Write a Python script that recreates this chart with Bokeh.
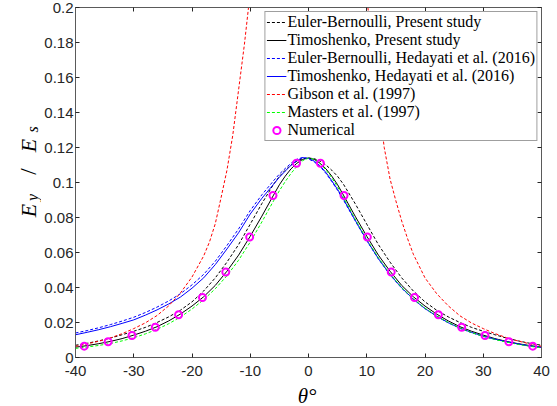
import math
from bokeh.plotting import figure
from bokeh.layouts import row, column
from bokeh.models import (Range1d, LinearAxis, FixedTicker, Legend, LegendItem,
                          Label, CustomJSTickFormatter)
from bokeh.embed import file_html
from bokeh.resources import INLINE

# ---------------- data ----------------
theta = [-40, -38, -36, -34, -32, -30, -28, -26, -24, -22, -20, -18, -16, -14, -12, -10, -8,
         -6, -5, -4, -3, -2, -1, 0, 1, 2, 3, 4, 5, 6,
         8, 10, 12, 14, 16, 18, 20, 22, 24, 26, 28, 30, 32, 34, 36, 38, 40]

eb_present = [0.0070, 0.0081, 0.0095, 0.0111, 0.0130, 0.0150, 0.0172, 0.0200, 0.0232, 0.0270,
              0.0318, 0.0380, 0.0455, 0.0545, 0.0645, 0.0762, 0.0880,
              0.0990, 0.1035, 0.1070, 0.1100, 0.1122, 0.1136, 0.1140, 0.1136, 0.1122, 0.1100,
              0.1070, 0.1035, 0.0990,
              0.0880, 0.0762, 0.0645, 0.0545, 0.0455, 0.0380, 0.0318, 0.0270, 0.0232, 0.0200,
              0.0172, 0.0150, 0.0130, 0.0111, 0.0095, 0.0081, 0.0070]

timo_present = [0.0059, 0.0068, 0.0079, 0.0092, 0.0108, 0.0128, 0.0150, 0.0176, 0.0209, 0.0248,
                0.0294, 0.0347, 0.0412, 0.0493, 0.0585, 0.0693, 0.0808,
                0.0928, 0.0987, 0.1036, 0.1078, 0.1110, 0.1132, 0.1140, 0.1132, 0.1110, 0.1078,
                0.1036, 0.0987, 0.0928,
                0.0808, 0.0693, 0.0585, 0.0493, 0.0412, 0.0347, 0.0294, 0.0248, 0.0209, 0.0176,
                0.0150, 0.0128, 0.0108, 0.0092, 0.0079, 0.0068, 0.0059]

eb_hedayati = [0.0140, 0.0154, 0.0170, 0.0188, 0.0208, 0.0230, 0.0257, 0.0288, 0.0323, 0.0364,
               0.0415, 0.0475, 0.0550, 0.0640, 0.0735, 0.0840, 0.0930,
               0.1010, 0.1048, 0.1080, 0.1110, 0.1133, 0.1143, 0.1135, 0.1117, 0.1090, 0.1052,
               0.1005, 0.0955, 0.0900,
               0.0782, 0.0668, 0.0563, 0.0472, 0.0396, 0.0332, 0.0279, 0.0235, 0.0198, 0.0167,
               0.0142, 0.0121, 0.0104, 0.0089, 0.0077, 0.0066, 0.0058]

timo_hedayati = [0.0130, 0.0144, 0.0159, 0.0176, 0.0195, 0.0215, 0.0242, 0.0272, 0.0306, 0.0345,
                 0.0396, 0.0455, 0.0531, 0.0620, 0.0713, 0.0820, 0.0910,
                 0.0990, 0.1030, 0.1065, 0.1098, 0.1125, 0.1142, 0.1138, 0.1122, 0.1095, 0.1057,
                 0.1010, 0.0960, 0.0905,
                 0.0785, 0.0670, 0.0565, 0.0474, 0.0398, 0.0333, 0.0280, 0.0236, 0.0199, 0.0168,
                 0.0143, 0.0122, 0.0105, 0.0090, 0.0077, 0.0066, 0.0058]

masters = [0.0052, 0.0060, 0.0069, 0.0080, 0.0095, 0.0113, 0.0135, 0.0161, 0.0193, 0.0231,
           0.0277, 0.0330, 0.0393, 0.0467, 0.0556, 0.0660, 0.0775,
           0.0895, 0.0953, 0.1005, 0.1052, 0.1092, 0.1125, 0.1140, 0.1132, 0.1108, 0.1072,
           0.1027, 0.0975, 0.0915,
           0.0792, 0.0676, 0.0570, 0.0478, 0.0400, 0.0335, 0.0282, 0.0237, 0.0200, 0.0168,
           0.0142, 0.0121, 0.0103, 0.0088, 0.0075, 0.0064, 0.0055]

gibson_theta_left = [-40, -38, -36, -34, -32, -30, -28, -26, -24, -22, -20, -18, -17, -16,
                     -15, -14, -13, -12, -11, -10.3]
gibson_left = [0.0064, 0.0078, 0.0093, 0.0112, 0.0136, 0.0165, 0.0198, 0.0240, 0.0295, 0.0368,
               0.0460, 0.0580, 0.0660, 0.0765, 0.0915, 0.1070, 0.1270, 0.1530, 0.1790, 0.2000]
gibson_theta_right = [10.2, 11, 12, 13, 14, 15, 16, 17, 18, 20, 22, 24, 26, 28, 30, 32, 34,
                      36, 38, 40]
gibson_right = [0.2000, 0.1750, 0.1470, 0.1200, 0.1020, 0.0895, 0.0780, 0.0680, 0.0590, 0.0455,
                0.0365, 0.0295, 0.0238, 0.0197, 0.0165, 0.0137, 0.0113, 0.0094, 0.0078, 0.0064]

num_theta = [-38.5, -34.4, -30.3, -26.3, -22.3, -18.2, -14.2, -10.1, -6.1, -2.05,
             2.05, 6.1, 10.1, 14.2, 18.2, 22.3, 26.3, 30.3, 34.4, 38.5]
num_vals = [0.0065, 0.0090, 0.0126, 0.0173, 0.0244, 0.0343, 0.0488, 0.0688, 0.0926, 0.1110,
            0.1110, 0.0926, 0.0688, 0.0488, 0.0343, 0.0244, 0.0173, 0.0126, 0.0090, 0.0065]

x_ticks = [-40, -30, -20, -10, 0, 10, 20, 30, 40]
y_ticks = [0, 0.02, 0.04, 0.06, 0.08, 0.1, 0.12, 0.14, 0.16, 0.18, 0.2]

legend_labels = ["Euler-Bernoulli, Present study",
                 "Timoshenko, Present study",
                 "Euler-Bernoulli, Hedayati et al. (2016)",
                 "Timoshenko, Hedayati et al. (2016)",
                 "Gibson et al. (1997)",
                 "Masters et al. (1997)",
                 "Numerical"]

# ---------------- layout sizes (page px) ----------------
W, H = 556, 405
YLAB_W = 41          # strip holding the y title
MAIN_H = 383         # main figure height
AX = "#5a5a5a"
TICK_FONT = "Liberation Sans"
SERIF = "Liberation Serif"

# ---------------- main figure ----------------
p = figure(width=W - YLAB_W, height=MAIN_H, output_backend="svg", toolbar_location=None,
           x_range=Range1d(-40, 40), y_range=Range1d(0, 0.2),
           min_border_left=73 - YLAB_W, min_border_right=15, min_border_top=7,
           min_border_bottom=MAIN_H - 357)
p.xgrid.visible = False
p.ygrid.visible = False
p.outline_line_color = None
p.background_fill_color = "white"
p.border_fill_color = "white"

fmt_x = CustomJSTickFormatter(code="return tick.toFixed(0);")
fmt_y = CustomJSTickFormatter(code="var s = tick.toFixed(2); s = s.replace(/0+$/, ''); return s.replace(/\\.$/, '');")
fmt_none = CustomJSTickFormatter(code="return '';")

for ax, ticks, fmt in ((p.xaxis[0], x_ticks, fmt_x), (p.yaxis[0], y_ticks, fmt_y)):
    ax.ticker = FixedTicker(ticks=ticks)
    ax.formatter = fmt
    ax.major_tick_in = 4
    ax.major_tick_out = 0
    ax.minor_tick_line_color = None
    ax.axis_line_color = AX
    ax.major_tick_line_color = "#262626"
    ax.major_label_text_font = TICK_FONT
    ax.major_label_text_font_size = "15px"
    ax.major_label_text_color = "#262626"
p.xaxis[0].major_label_standoff = 8
p.yaxis[0].major_label_standoff = 2

top = LinearAxis(ticker=FixedTicker(ticks=x_ticks), formatter=fmt_none,
                 major_tick_in=4, major_tick_out=0, minor_tick_line_color=None,
                 axis_line_color=AX, major_tick_line_color="#262626", major_label_standoff=0)
right = LinearAxis(ticker=FixedTicker(ticks=y_ticks), formatter=fmt_none,
                   major_tick_in=4, major_tick_out=0, minor_tick_line_color=None,
                   axis_line_color=AX, major_tick_line_color="#262626", major_label_standoff=0)
p.add_layout(top, "above")
p.add_layout(right, "right")

# ---------------- curves ----------------
DASH = "3 2"
r_ebp = p.line(theta, eb_present, line_color="black", line_width=1, line_dash=DASH)
r_tp = p.line(theta, timo_present, line_color="black", line_width=1)
r_ebh = p.line(theta, eb_hedayati, line_color="#0000ff", line_width=1, line_dash=DASH)
r_th = p.line(theta, timo_hedayati, line_color="#0000ff", line_width=1)
r_g1 = p.line(gibson_theta_left, gibson_left, line_color="#ff0000", line_width=1, line_dash=DASH)
r_g2 = p.line(gibson_theta_right, gibson_right, line_color="#ff0000", line_width=1, line_dash=DASH)
r_m = p.line(theta, masters, line_color="#00ff00", line_width=1, line_dash=DASH)
r_n = p.scatter(num_theta, num_vals, marker="circle", size=7, fill_color=None,
                line_color="#ff00ff", line_width=2)

legend = Legend(items=[LegendItem(label=legend_labels[0], renderers=[r_ebp]),
                       LegendItem(label=legend_labels[1], renderers=[r_tp]),
                       LegendItem(label=legend_labels[2], renderers=[r_ebh]),
                       LegendItem(label=legend_labels[3], renderers=[r_th]),
                       LegendItem(label=legend_labels[4], renderers=[r_g1]),
                       LegendItem(label=legend_labels[5], renderers=[r_m]),
                       LegendItem(label=legend_labels[6], renderers=[r_n])],
                location="top_right")
legend.margin = 4
legend.padding = 1
legend.spacing = 0
legend.glyph_width = 20
legend.glyph_height = 18
legend.label_height = 18
legend.label_standoff = 1
legend.label_text_font = SERIF
legend.label_text_font_size = "16px"
legend.label_text_color = "black"
legend.border_line_color = "#404040"
legend.border_line_width = 1
legend.background_fill_color = "white"
legend.background_fill_alpha = 1
p.add_layout(legend)


def blank_fig(w, h, x0, x1, y_top, y_bottom):
    f = figure(width=w, height=h, output_backend="svg", toolbar_location=None,
               x_range=Range1d(x0, x1), y_range=Range1d(y_bottom, y_top),
               x_axis_type=None, y_axis_type=None,
               min_border_left=0, min_border_right=0, min_border_top=0, min_border_bottom=0)
    f.xgrid.visible = False
    f.ygrid.visible = False
    f.outline_line_color = None
    f.background_fill_color = "white"
    f.border_fill_color = "white"
    return f


# strip left of the chart for the y title (its data units are page px, y downward)
fy = blank_fig(YLAB_W, H, 0, YLAB_W, 0, H)
ylab = [("E", 28, 210, "22px", "italic"),
        ("y", 32, 197, "16px", "italic"),
        ("/", 28, 171, "23px", "normal"),
        ("E", 28, 145, "22px", "italic"),
        ("s", 32, 129, "16px", "italic")]
for txt, px, py, fs, st in ylab:
    fy.add_layout(Label(x=px, y=py, text=txt, angle=math.pi / 2,
                        text_align="center", text_baseline="alphabetic",
                        text_font=SERIF, text_font_size=fs, text_font_style=st,
                        text_color="black"))

# strip below the chart for the x title
fx = blank_fig(W - YLAB_W, H - MAIN_H, YLAB_W, W, MAIN_H, H)
fx.add_layout(Label(x=297, y=395.5, text="θ°", text_align="center",
                    text_baseline="alphabetic", text_font=SERIF, text_font_size="21px",
                    text_font_style="italic", text_color="black"))

layout = row(fy, column(p, fx, spacing=0), spacing=0)
open("out.html", "w").write(file_html(layout, INLINE))
